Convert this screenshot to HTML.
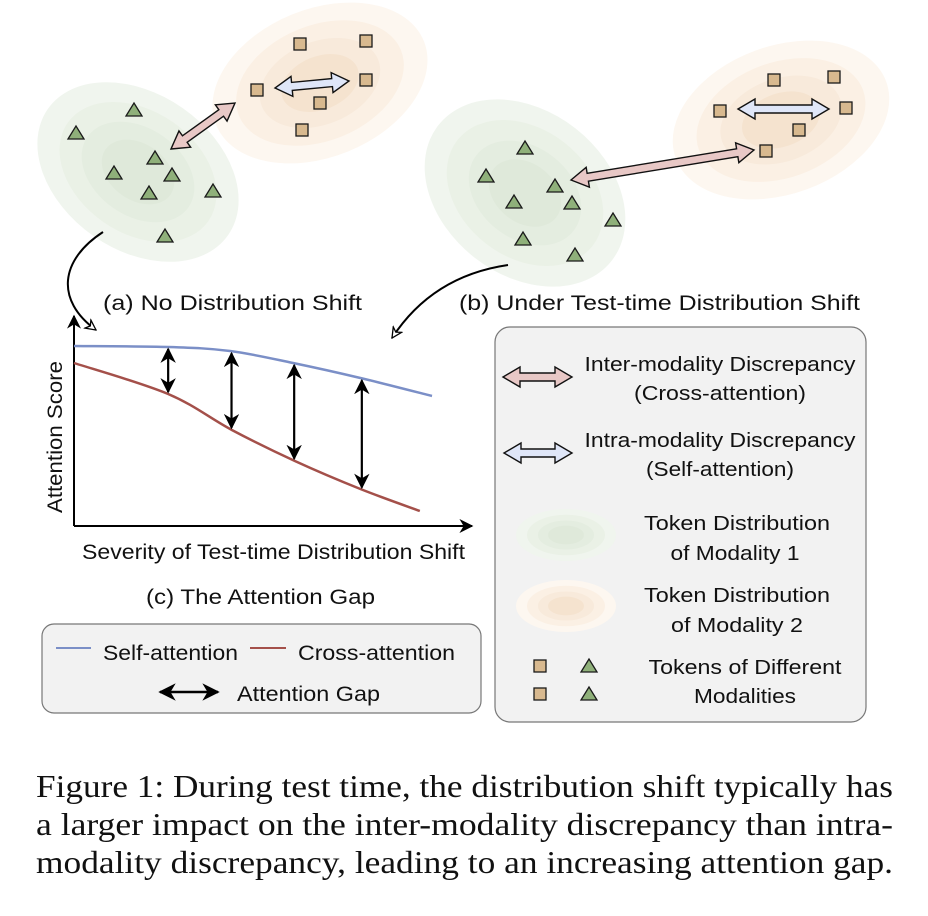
<!DOCTYPE html>
<html><head><meta charset="utf-8"><style>
html,body{margin:0;padding:0;background:#fff;}
svg{display:block;}
text{font-family:"Liberation Sans",sans-serif;fill:#111;}
.cap{font-family:"Liberation Serif",serif;font-size:32px;fill:#111;}
</style></head><body>
<svg id="fig" width="928" height="916" viewBox="0 0 928 916" xmlns="http://www.w3.org/2000/svg">
<defs>
<marker id="ah" viewBox="0 0 10 10" refX="9" refY="5" markerWidth="7" markerHeight="7" orient="auto-start-reverse"><path d="M0,0 L10,5 L0,10 L3,5 z" fill="#000"/></marker>
<marker id="oh" viewBox="0 0 12 12" refX="11" refY="6" markerWidth="12" markerHeight="12" markerUnits="userSpaceOnUse" orient="auto"><path d="M1,1 L11,6 L1,11 L4,6 z" fill="#fff" stroke="#000" stroke-width="1.3"/></marker>
</defs>
<g id="scenes"></g>
<path d="M103,232 C60,260 55,300 96,330" fill="none" stroke="#000" stroke-width="2" marker-end="url(#oh)"/>
<path d="M508,265 C460,272 420,295 392,338" fill="none" stroke="#000" stroke-width="2" marker-end="url(#oh)"/>
<text x="103" y="310" font-size="21.5" textLength="259" lengthAdjust="spacingAndGlyphs">(a) No Distribution Shift</text>
<text x="459" y="310" font-size="21.5" textLength="401" lengthAdjust="spacingAndGlyphs">(b) Under Test-time Distribution Shift</text>
<g id="chart"></g>
<text x="82" y="559" font-size="21" textLength="383" lengthAdjust="spacingAndGlyphs">Severity of Test-time Distribution Shift</text>
<text transform="translate(62,437) rotate(-90)" text-anchor="middle" font-size="21" textLength="152" lengthAdjust="spacingAndGlyphs">Attention Score</text>
<text x="146" y="604" font-size="21.5" textLength="229" lengthAdjust="spacingAndGlyphs">(c) The Attention Gap</text>
<g>
<rect x="42" y="624" width="439" height="89" rx="12" fill="#f2f2f2" stroke="#777" stroke-width="1.2"/>
<line x1="56" y1="648" x2="91" y2="648" stroke="#7b8fc7" stroke-width="2"/>
<text x="103" y="660" font-size="21" textLength="135" lengthAdjust="spacingAndGlyphs">Self-attention</text>
<line x1="250" y1="648" x2="286" y2="648" stroke="#a4504a" stroke-width="2"/>
<text x="298" y="660" font-size="21" textLength="157" lengthAdjust="spacingAndGlyphs">Cross-attention</text>
<line x1="160" y1="692" x2="218" y2="692" stroke="#000" stroke-width="2.5" marker-start="url(#ah)" marker-end="url(#ah)"/>
<text x="237" y="701" font-size="21" textLength="143" lengthAdjust="spacingAndGlyphs">Attention Gap</text>
</g>
<g>
<rect x="495" y="327" width="371" height="395" rx="15" fill="#f2f2f2" stroke="#777" stroke-width="1.2"/>
<g id="legicons"></g>
<text x="720" y="371" font-size="20.5" text-anchor="middle" textLength="271" lengthAdjust="spacingAndGlyphs">Inter-modality Discrepancy</text>
<text x="720" y="400" font-size="20.5" text-anchor="middle" textLength="172" lengthAdjust="spacingAndGlyphs">(Cross-attention)</text>
<text x="720" y="447" font-size="20.5" text-anchor="middle" textLength="271" lengthAdjust="spacingAndGlyphs">Intra-modality Discrepancy</text>
<text x="720" y="476" font-size="20.5" text-anchor="middle" textLength="148" lengthAdjust="spacingAndGlyphs">(Self-attention)</text>
<text x="737" y="530" font-size="20.5" text-anchor="middle" textLength="186" lengthAdjust="spacingAndGlyphs">Token Distribution</text>
<text x="735" y="560" font-size="20.5" text-anchor="middle" textLength="129" lengthAdjust="spacingAndGlyphs">of Modality 1</text>
<text x="737" y="602" font-size="20.5" text-anchor="middle" textLength="186" lengthAdjust="spacingAndGlyphs">Token Distribution</text>
<text x="737" y="632" font-size="20.5" text-anchor="middle" textLength="132" lengthAdjust="spacingAndGlyphs">of Modality 2</text>
<text x="745" y="674" font-size="20.5" text-anchor="middle" textLength="193" lengthAdjust="spacingAndGlyphs">Tokens of Different</text>
<text x="745" y="703" font-size="20.5" text-anchor="middle" textLength="102" lengthAdjust="spacingAndGlyphs">Modalities</text>
</g>
<g>
<text class="cap" x="36" y="797" textLength="857" lengthAdjust="spacingAndGlyphs">Figure 1: During test time, the distribution shift typically has</text>
<text class="cap" x="36" y="835" textLength="857" lengthAdjust="spacingAndGlyphs">a larger impact on the inter-modality discrepancy than intra-</text>
<text class="cap" x="36" y="873" textLength="857" lengthAdjust="spacingAndGlyphs">modality discrepancy, leading to an increasing attention gap.</text>
</g>
</svg>
<script>
// Chart data
const severity = [0, 0.263, 0.436, 0.612, 0.80, 1.0];
const selfScores = [0.90, 0.895, 0.875, 0.815, 0.74, 0.65];
const crossSeverity = [0, 0.263, 0.441, 0.617, 0.80, 0.966];
const crossScores = [0.815, 0.66, 0.48, 0.325, 0.185, 0.075];
const gapSeverity = [0.263, 0.44, 0.615, 0.804];

const NS = "http://www.w3.org/2000/svg";
function mk(tag, attrs, parent){const e=document.createElementNS(NS,tag);for(const k in attrs)e.setAttribute(k,attrs[k]);parent.appendChild(e);return e;}
const X0=74, X1=432, Y0=526, YTOP=326;
function xs(v){return X0+v*(X1-X0);}
function ys(v){return Y0-v*(Y0-YTOP);}
function interp(xa,ya,x){for(let i=0;i<xa.length-1;i++){if(x>=xa[i]&&x<=xa[i+1]){const t=(x-xa[i])/(xa[i+1]-xa[i]);return ya[i]+t*(ya[i+1]-ya[i]);}}return ya[ya.length-1];}
function smoothPath(pts){let d="M"+pts[0][0]+","+pts[0][1];for(let i=0;i<pts.length-1;i++){const p0=pts[i-1]||pts[i],p1=pts[i],p2=pts[i+1],p3=pts[i+2]||p2;const c1=[p1[0]+(p2[0]-p0[0])/6,p1[1]+(p2[1]-p0[1])/6],c2=[p2[0]-(p3[0]-p1[0])/6,p2[1]-(p3[1]-p1[1])/6];d+=" C"+c1+" "+c2+" "+p2;}return d;}
const chart=document.getElementById('chart');
const yax=mk('line',{x1:X0,y1:Y0,x2:X0,y2:316,stroke:'#000','stroke-width':2,'marker-end':'url(#ah)'},chart);


const xax=mk('line',{x1:X0,y1:Y0,x2:472,y2:Y0,stroke:'#000','stroke-width':2,'marker-end':'url(#ah)'},chart);


const sl=mk('path',{d:smoothPath(severity.map((s,i)=>[xs(s),ys(selfScores[i])])),fill:'none',stroke:'#7b8fc7','stroke-width':2.5},chart);


const cl=mk('path',{d:smoothPath(crossSeverity.map((s,i)=>[xs(s),ys(crossScores[i])])),fill:'none',stroke:'#a4504a','stroke-width':2.5},chart);


gapSeverity.forEach((g)=>{
  const a=ys(interp(severity,selfScores,g))+2, b=ys(interp(crossSeverity,crossScores,g))-2;
  const ga=mk('line',{x1:xs(g),y1:a,x2:xs(g),y2:b,stroke:'#000','stroke-width':2.2,'marker-start':'url(#ah)','marker-end':'url(#ah)'},chart);
  
  
});

const scenes=document.getElementById('scenes');
function blob(cx,cy,rx,ry,rot,cols,parent,name){const g=mk('g',{transform:`translate(${cx},${cy}) rotate(${rot})`},parent);
  
  
  const f=[1,0.78,0.56,0.36];cols.forEach((c,i)=>mk('ellipse',{cx:0,cy:0,rx:rx*f[i],ry:ry*f[i],fill:c},g));}
const GREEN=['#f0f5ee','#eaf1e6','#e4ede0','#dfe9da'], ORANGE=['#fdf7f0','#fbf0e4','#f8eadb','#f5e3cf'];
function tri(x,y,p,n){const t=mk('polygon',{points:`${x-8},${y+6} ${x+8},${y+6} ${x},${y-7}`,fill:'#8fb07a',stroke:'#1a1a1a','stroke-width':1.3},p);
  
  }
function sq(x,y,p,n){const s=mk('rect',{x:x-6,y:y-6,width:12,height:12,fill:'#d8b98f',stroke:'#1a1a1a','stroke-width':1.3},p);
  
  }
function barrow(x1,y1,x2,y2,fill,p,n){const dx=x2-x1,dy=y2-y1,L=Math.hypot(dx,dy),ux=dx/L,uy=dy/L,nx=-uy,ny=ux;const hl=17,sw=4,hw=10;
  const P=(a,b)=>[x1+ux*a+nx*b,y1+uy*a+ny*b].join(',');
  const pts=[P(0,0),P(hl,hw),P(hl,sw),P(L-hl,sw),P(L-hl,hw),P(L,0),P(L-hl,-hw),P(L-hl,-sw),P(hl,-sw),P(hl,-hw)];
  const e=mk('polygon',{points:pts.join(' '),fill:fill,stroke:'#111','stroke-width':1.4,'stroke-linejoin':'miter'},p);
  
  }
blob(138,172,110,78,35,GREEN,scenes,'modality1-distribution-a');
blob(320,83,112,74,-22,ORANGE,scenes,'modality2-distribution-a');
blob(525,193,110,82,38,GREEN,scenes,'modality1-distribution-b');
blob(781,120,112,74,-20,ORANGE,scenes,'modality2-distribution-b');
[[134,110],[76,133],[155,158],[114,173],[172,175],[149,193],[213,191],[165,236]].forEach(p=>tri(p[0],p[1],scenes));
[[300,44],[366,41],[257,90],[366,80],[320,103],[302,130]].forEach(p=>sq(p[0],p[1],scenes));
[[525,148],[486,176],[555,186],[514,202],[572,203],[613,220],[523,239],[575,255]].forEach(p=>tri(p[0],p[1],scenes));
[[720,111],[774,80],[834,77],[846,108],[799,130],[766,151]].forEach(p=>sq(p[0],p[1],scenes));
barrow(275,88,349,81,'#dfe6f8',scenes,'intra-arrow-a');
barrow(171,149,235,103,'#e8c8c6',scenes,'inter-arrow-a');
barrow(738,109,829,109,'#dfe6f8',scenes,'intra-arrow-b');
barrow(571,180,754,150,'#e8c8c6',scenes,'inter-arrow-b');
const li=document.getElementById('legicons');
barrow(503,377,572,377,'#e8c8c6',li,'legend-inter-arrow');
barrow(504,453,572,453,'#dfe6f8',li,'legend-intra-arrow');
blob(566,535,50,26,0,GREEN,li,'legend-modality1-blob');
blob(566,606,50,26,0,ORANGE,li,'legend-modality2-blob');
sq(540,666,li,'legend-square-token');sq(540,694,li,'legend-square-token');
tri(589,666,li,'legend-triangle-token');tri(589,694,li,'legend-triangle-token');
</script>
</body></html>
